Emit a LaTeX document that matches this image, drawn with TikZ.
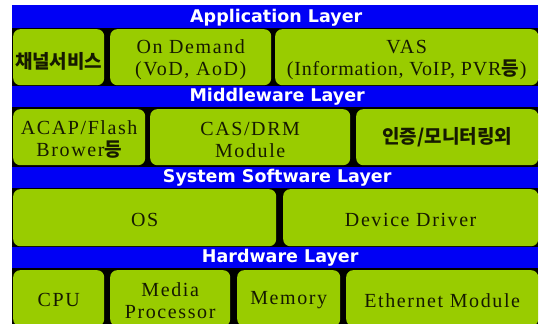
\documentclass[tikz,border=0pt]{standalone}
\usepackage{fontspec}
\setmainfont{Liberation Serif}[LetterSpace=8]
\newfontfamily\plainserif{Liberation Serif}
\newfontfamily\kr{Noto Sans CJK KR}
\newfontfamily\bandfont{DejaVu Sans}
\definecolor{bandblue}{RGB}{0,0,245}
\definecolor{cellgreen}{RGB}{153,204,0}
\definecolor{celltext}{RGB}{22,26,0}
\tikzset{
  cell/.style={fill=cellgreen, rounded corners=7pt, anchor=north west, inner sep=0pt},
  celllabel/.style={text=celltext, align=center, inner sep=0pt,
    font=\fontsize{20}{22}\selectfont},
  band/.style={fill=bandblue, anchor=north west, inner sep=0pt},
  bandlabel/.style={text=white, font=\bandfont\bfseries\fontsize{17.5}{19}\selectfont, inner sep=0pt},
}
\newcommand{\ko}[1]{{\kr\bfseries\fontsize{19}{22}\selectfont #1}}
\newcommand{\tight}[1]{{\addfontfeatures{LetterSpace=4}#1}}
\begin{document}
\begin{tikzpicture}[x=1pt,y=-1pt]
\useasboundingbox (0,0) rectangle (541,324);
\clip (0,0) rectangle (541,324);
% black frame behind everything
\fill[black] (12,5) rectangle (538,330);

% layer title bands
\node[band, minimum width=526pt, minimum height=23pt] (appband) at (12,5) {};
\node[band, minimum width=526pt, minimum height=21pt] (midband) at (12,86) {};
\node[band, minimum width=526pt, minimum height=21pt] (sysband) at (12,167) {};
\node[band, minimum width=526pt, minimum height=21pt] (hwband) at (12,247) {};
\node[bandlabel] at ([xshift=1pt,yshift=-1pt]appband.center) {Application Layer};
\node[bandlabel] at ([xshift=2pt]midband.center) {Middleware Layer};
\node[bandlabel] at ([xshift=2pt]sysband.center) {System Software Layer};
\node[bandlabel] at ([xshift=5pt]hwband.center) {Hardware Layer};

% application layer
\node[cell, minimum width=91pt, minimum height=56pt] (chan) at (13,29) {};
\node[cell, minimum width=161pt, minimum height=56pt] (ondemand) at (110,29) {};
\node[cell, minimum width=263pt, minimum height=56pt] (vas) at (275,29) {};
\node[celllabel] at ([yshift=-4pt]chan.center) {\ko{채널서비스}};
\node[celllabel] at ([yshift=-2.5pt]ondemand.center) {On Demand\\(VoD, AoD)};
\node[celllabel] at ([yshift=-2.5pt]vas.center)
  {VAS\\\tight{(Information, VoIP, PVR}\ko{등}{\plainserif\fontsize{20}{22}\selectfont\kern1pt)}};

% middleware layer
\node[cell, minimum width=132pt, minimum height=56pt] (acap) at (13,109) {};
\node[cell, minimum width=200pt, minimum height=56pt] (cas) at (150,109) {};
\node[cell, minimum width=182pt, minimum height=56pt] (auth) at (356,109) {};
\node[celllabel] at ([yshift=-2.5pt]acap.center) {ACAP/Flash\\Brower\ko{등}};
\node[celllabel] at ([yshift=-2.5pt]cas.center) {CAS/DRM\\Module};
\node[celllabel] at (auth.center) {\ko{인증/모니터링외}};

% system software layer
\node[cell, minimum width=263pt, minimum height=57pt] (os) at (13,189) {};
\node[cell, minimum width=255pt, minimum height=57pt] (driver) at (283,189) {};
\node[celllabel] at ([yshift=-2pt]os.center) {OS};
\node[celllabel] at ([yshift=-2pt]driver.center) {Device Driver};

% hardware layer
\node[cell, minimum width=91pt, minimum height=56pt] (cpu) at (13,270) {};
\node[cell, minimum width=120pt, minimum height=56pt] (media) at (110,270) {};
\node[cell, minimum width=103pt, minimum height=56pt] (memory) at (237,270) {};
\node[cell, minimum width=192pt, minimum height=56pt] (ether) at (346,270) {};
\node[celllabel] at ([yshift=-2pt]cpu.center) {CPU};
\node[celllabel] at ([yshift=-2.5pt]media.center) {Media\\Processor};
\node[celllabel] at ([yshift=-2pt]memory.center) {Memory};
\node[celllabel] at ([yshift=-2pt]ether.center) {Ethernet Module};
\end{tikzpicture}
\end{document}
